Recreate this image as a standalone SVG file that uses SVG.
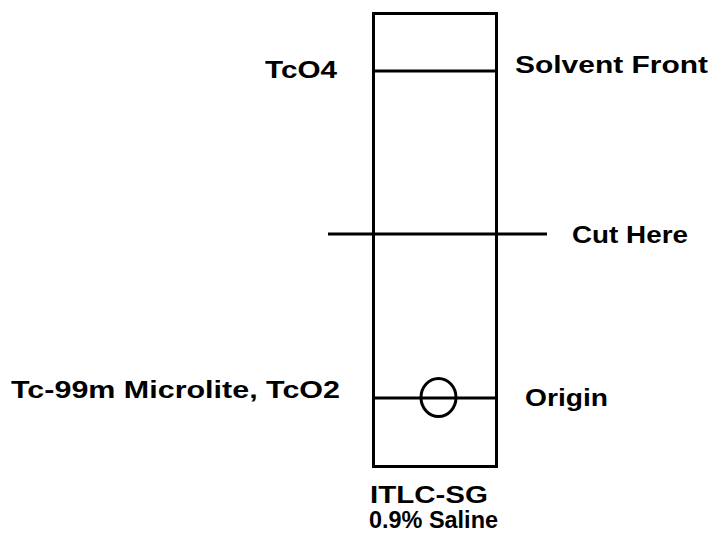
<svg xmlns="http://www.w3.org/2000/svg" width="711" height="541" viewBox="0 0 711 541">
<style>
.ln{stroke:#000;stroke-width:3;fill:none}
.lbl{font-family:"Liberation Sans",Arial,sans-serif;font-weight:bold;font-size:23px;fill:#000}
</style>
<rect width="711" height="541" fill="#fff"/>
<g id="strip">
<rect class="ln" x="373.5" y="13.5" width="123" height="453"/>
<text class="lbl" x="370" y="503" font-size="24" textLength="118" lengthAdjust="spacingAndGlyphs">ITLC-SG</text>
<text class="lbl" x="369" y="528" textLength="129" lengthAdjust="spacingAndGlyphs">0.9% Saline</text>
</g>
<g id="connectors">
<line class="ln" x1="373" y1="71" x2="497" y2="71"/>
<line class="ln" x1="328" y1="234" x2="547" y2="234"/>
<line class="ln" x1="373" y1="398" x2="497" y2="398"/>
</g>
<g id="solvent-front">
<text class="lbl" x="265" y="78" textLength="72" lengthAdjust="spacingAndGlyphs">TcO4</text>
<text class="lbl" x="515" y="73" font-size="24" textLength="193" lengthAdjust="spacingAndGlyphs">Solvent Front</text>
</g>
<g id="cut-here">
<text class="lbl" x="572" y="243" font-size="24" textLength="116" lengthAdjust="spacingAndGlyphs">Cut Here</text>
</g>
<g id="origin">
<ellipse class="ln" cx="438.5" cy="397.5" rx="17.5" ry="19" stroke-width="3.5"/>
<text class="lbl" x="11" y="398" textLength="329" lengthAdjust="spacingAndGlyphs">Tc-99m Microlite, TcO2</text>
<text class="lbl" x="525" y="406" textLength="83" lengthAdjust="spacingAndGlyphs">Origin</text>
</g>
</svg>
